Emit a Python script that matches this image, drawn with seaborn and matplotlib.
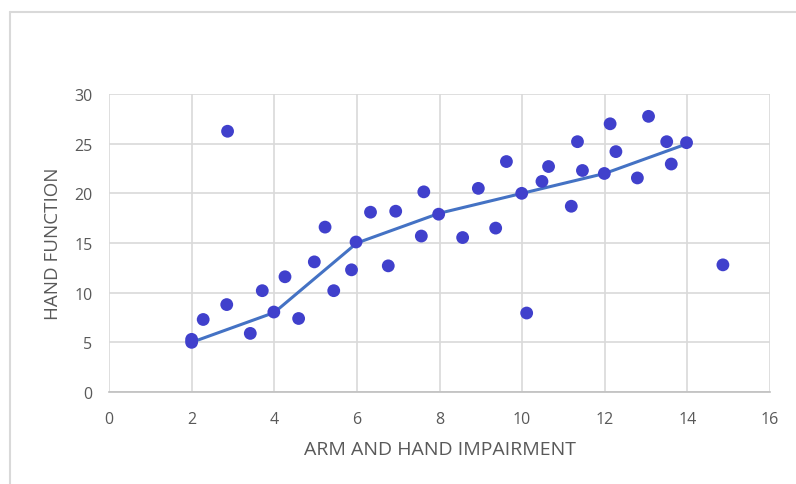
import matplotlib
matplotlib.use("Agg")
import matplotlib.pyplot as plt
import seaborn as sns
import pandas as pd
from matplotlib.lines import Line2D

# Scatter data
impairment = [2.0, 2.0, 2.28, 2.87, 2.85, 3.42, 3.71, 3.99, 4.26, 4.59, 4.97, 5.23, 5.44,
              5.87, 5.98, 6.33, 6.76, 6.94, 7.56, 7.62, 7.98, 8.56, 8.94, 9.36, 9.62,
              9.99, 10.11, 10.48, 10.64, 11.19, 11.34, 11.46, 11.99, 12.13, 12.27,
              12.79, 13.06, 13.5, 13.61, 13.98, 14.86]
function = [5.0, 5.3, 7.3, 26.25, 8.8, 5.9, 10.2, 8.05, 11.6, 7.4, 13.1, 16.6, 10.2,
            12.3, 15.1, 18.1, 12.7, 18.2, 15.7, 20.15, 17.9, 15.55, 20.5, 16.5, 23.2,
            20.0, 7.95, 21.2, 22.7, 18.7, 25.2, 22.3, 22.0, 27.0, 24.2,
            21.55, 27.75, 25.2, 22.95, 25.1, 12.8]

# Connecting line
line_x = [2, 4, 6, 8, 10, 12, 14]
line_y = [5, 8, 15, 18, 20, 22, 25]

x_ticks = [0, 2, 4, 6, 8, 10, 12, 14, 16]
y_ticks = [0, 5, 10, 15, 20, 25, 30]

sns.set_theme(style="white")
plt.rcParams['font.family'] = ['Open Sans', 'DejaVu Sans']

fig = plt.figure(figsize=(7.96, 4.85), dpi=100)
ax = fig.add_axes([109/796, 1-393/485, (770-109)/796, (393-95)/485])

df = pd.DataFrame({"x": impairment, "y": function})
dl = pd.DataFrame({"x": line_x, "y": line_y})

sns.lineplot(data=dl, x="x", y="y", ax=ax, color="#4472C4", linewidth=2.2, zorder=2)
sns.scatterplot(data=df, x="x", y="y", ax=ax, color="#4040CC", s=85, edgecolor="none", zorder=3)

ax.set_xlim(0, 16)
ax.set_ylim(0, 30)
ax.set_xticks(x_ticks)
ax.set_yticks(y_ticks)
ax.grid(True, color="#D9D9D9", linewidth=1.2)
ax.set_axisbelow(True)
for side in ["top", "right", "left"]:
    ax.spines[side].set_visible(False)
ax.spines["bottom"].set_color("#BFBFBF")
ax.spines["bottom"].set_linewidth(1.2)
ax.tick_params(axis="both", colors="#595959", labelsize=11.5, length=0)
ax.tick_params(axis="y", pad=12)
ax.tick_params(axis="x", pad=14)
ax.set_xlabel("ARM AND HAND IMPAIRMENT", color="#595959", fontsize=14, labelpad=9)
ax.set_ylabel("HAND FUNCTION", color="#595959", fontsize=13.5, labelpad=9)

# outer chart frame (left and top edges visible)
fig.add_artist(Line2D([10/796, 10/796], [0, 1-13/485], transform=fig.transFigure, color="#D9D9D9", linewidth=1.5))
fig.add_artist(Line2D([10/796, 1], [1-13/485, 1-13/485], transform=fig.transFigure, color="#D9D9D9", linewidth=1.5))

fig.savefig("out.png", dpi=100, facecolor="white")
